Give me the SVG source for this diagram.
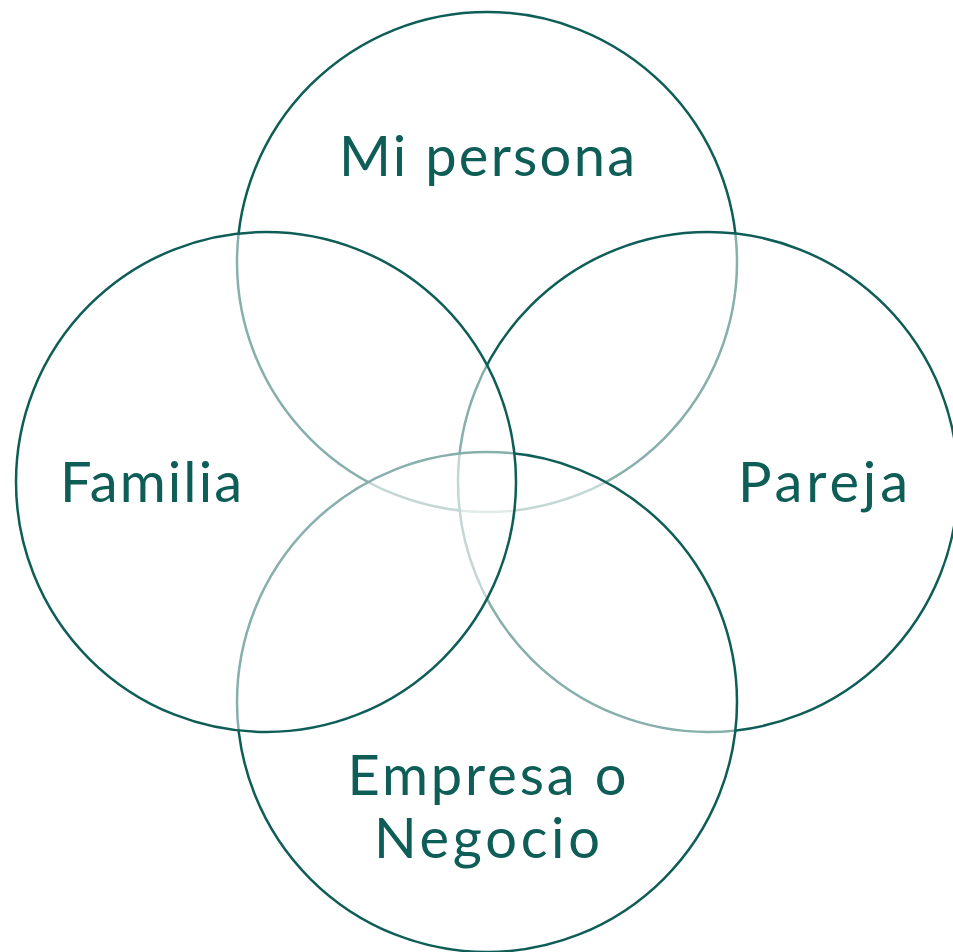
<svg xmlns="http://www.w3.org/2000/svg" width="953" height="952" viewBox="0 0 953 952">
<style>
.c{fill:#ffffff;fill-opacity:0.5;stroke:#0e5e57;stroke-width:2.5}
.t{font-family:"Lato","Noto Sans","DejaVu Sans",sans-serif;font-size:56px;font-weight:400;fill:#0e5e57;text-anchor:middle}
</style>
<rect width="953" height="952" fill="#ffffff"/>
<g id="node-mi-persona">
<circle class="c" cx="487" cy="262" r="250"/>
</g>
<g id="node-pareja">
<circle class="c" cx="708" cy="482" r="250"/>
</g>
<g id="node-empresa">
<circle class="c" cx="487" cy="702" r="250"/>
</g>
<g id="node-familia">
<circle class="c" cx="266" cy="482" r="250"/>
</g>
<g id="labels">
<text class="t" x="487" y="176" textLength="296" lengthAdjust="spacing">Mi persona</text>
<text class="t" x="151" y="502" textLength="182" lengthAdjust="spacing">Familia</text>
<text class="t" x="823" y="502" textLength="170" lengthAdjust="spacing">Pareja</text>
<text class="t" x="487" y="795" textLength="279" lengthAdjust="spacing">Empresa o</text>
<text class="t" x="487" y="858" textLength="226" lengthAdjust="spacing">Negocio</text>
</g>
<g id="connectors"/>
</svg>
